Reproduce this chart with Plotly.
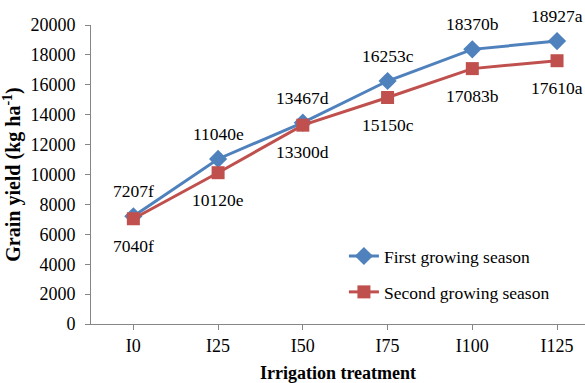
import plotly.graph_objects as go

categories = ["I0", "I25", "I50", "I75", "I100", "I125"]
first_season = [7207, 11040, 13467, 16253, 18370, 18927]
second_season = [7040, 10120, 13300, 15150, 17083, 17610]
first_letters = ["f", "e", "d", "c", "b", "a"]
second_letters = ["f", "e", "d", "c", "b", "a"]
y_ticks = [0, 2000, 4000, 6000, 8000, 10000, 12000, 14000, 16000, 18000, 20000]

BLUE = "#4F81BD"
RED = "#C0504D"
GREY = "#868686"
FONT = "Liberation Serif"

fig = go.Figure()
fig.add_trace(go.Scatter(
    x=categories, y=first_season, mode="lines+markers",
    name="First growing season",
    line=dict(color=BLUE, width=3),
    marker=dict(symbol="diamond", size=14, color=BLUE),
    legend="legend",
))
fig.add_trace(go.Scatter(
    x=categories, y=second_season, mode="lines+markers",
    name="Second growing season",
    line=dict(color=RED, width=3),
    marker=dict(symbol="square", size=13, color=RED),
    legend="legend2",
))

annotations = []
for c, v, l in zip(categories, first_season, first_letters):
    annotations.append(dict(x=c, y=v, text=f"{v}{l}", showarrow=False,
                            yshift=25, font=dict(family=FONT, size=17.5, color="black")))
for c, v, l in zip(categories, second_season, second_letters):
    annotations.append(dict(x=c, y=v, text=f"{v}{l}", showarrow=False,
                            yshift=-27, font=dict(family=FONT, size=17.5, color="black")))

fig.update_layout(
    width=585, height=383,
    margin=dict(l=91, r=0, t=25, b=59),
    paper_bgcolor="white", plot_bgcolor="white",
    font=dict(family=FONT, size=18, color="black"),
    showlegend=True,
    legend=dict(x=0.512, y=0.227, xanchor="left", yanchor="middle",
                bgcolor="rgba(0,0,0,0)", font=dict(family=FONT, size=17.5)),
    legend2=dict(x=0.512, y=0.107, xanchor="left", yanchor="middle",
                 bgcolor="rgba(0,0,0,0)", font=dict(family=FONT, size=17.5)),
    annotations=annotations,
    xaxis=dict(
        range=[-0.5, 5.33], showline=True, linecolor=GREY, linewidth=1,
        ticks="outside", ticklen=5, tickcolor=GREY, showgrid=False, zeroline=False,
        tickfont=dict(family=FONT, size=18), automargin=False,
        title=dict(text="<b>Irrigation treatment</b>", font=dict(family=FONT, size=18), standoff=16),
    ),
    yaxis=dict(
        range=[0, 20000], tickvals=y_ticks, tickformat="d", showline=True, linecolor=GREY, linewidth=1,
        ticks="outside", ticklen=5, tickcolor=GREY, showgrid=False, zeroline=False,
        tickfont=dict(family=FONT, size=18), ticklabelstandoff=6, automargin=False,
        title=dict(text="<b>Grain yield (kg ha<sup>-1</sup>)</b>", font=dict(family=FONT, size=20), standoff=16),
    ),
)

# Remove the browser's default 8px body margin so the 585x383 figure fills the window.
fig.write_html(
    "out.html",
    config={"displayModeBar": False},
    post_script="document.body.style.margin='0';document.body.style.overflow='hidden';",
)
